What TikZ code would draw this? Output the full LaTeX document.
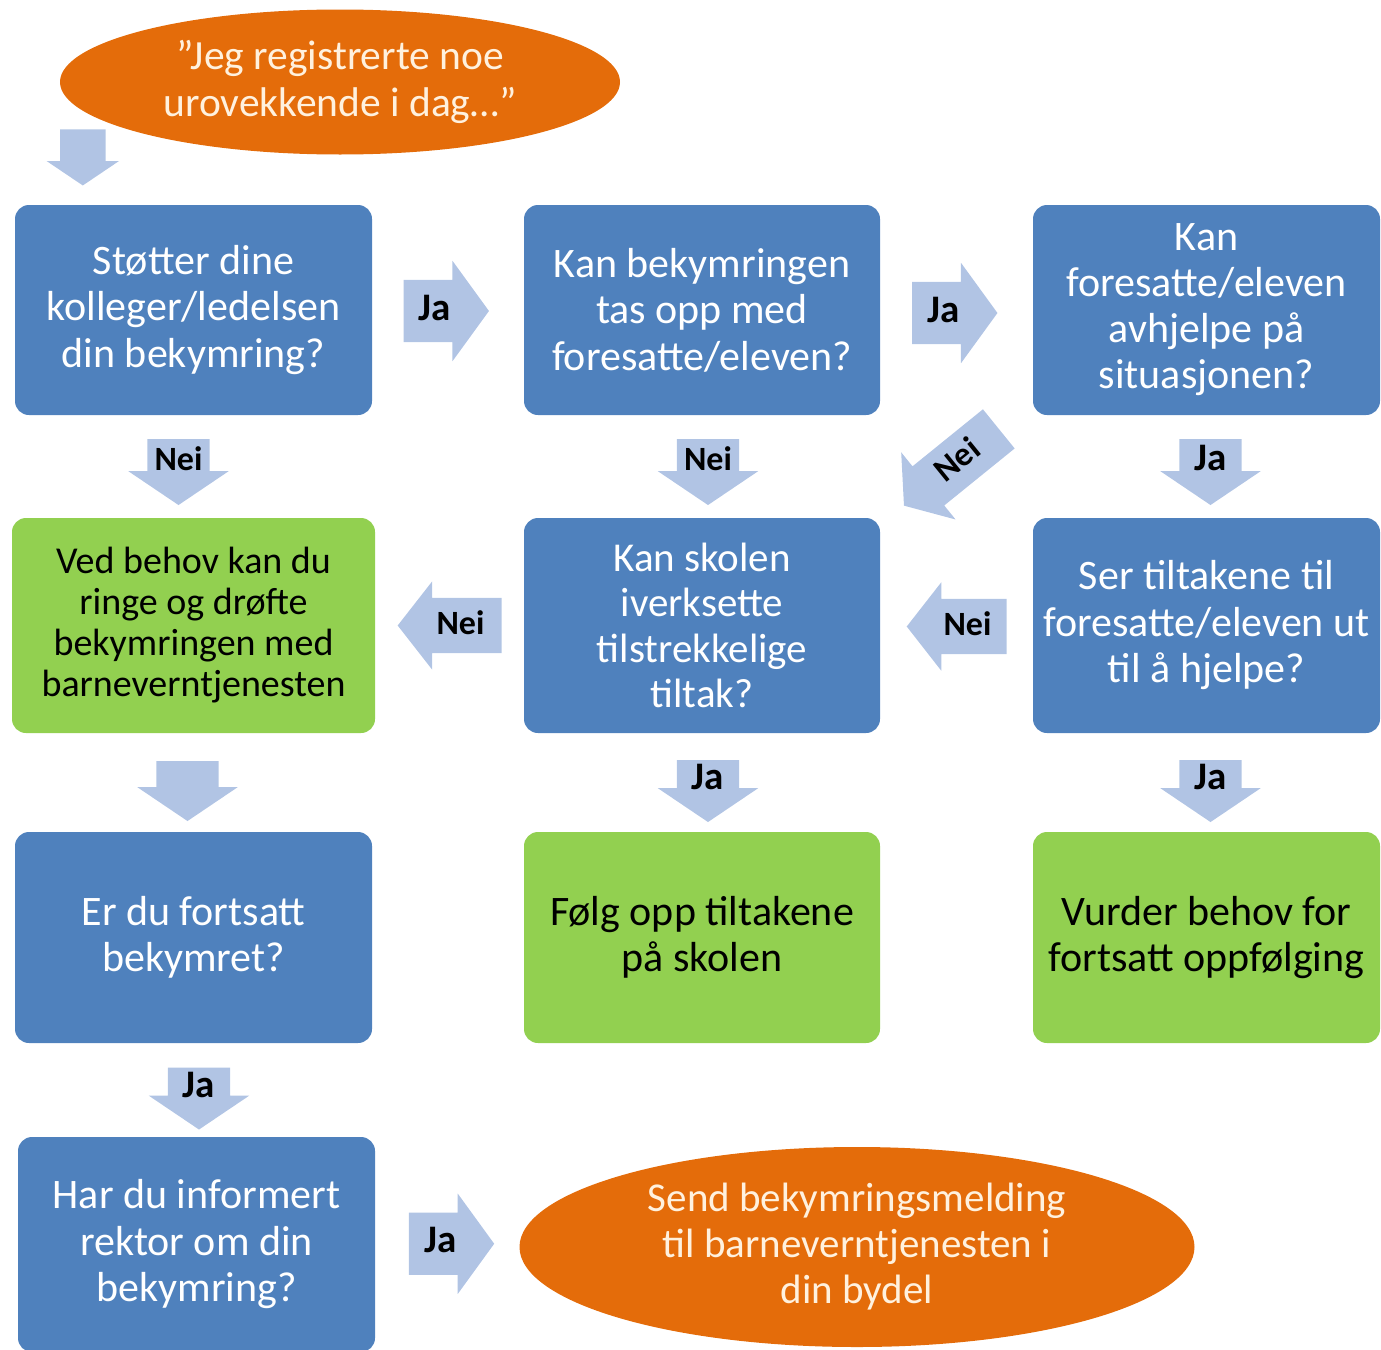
\documentclass[tikz,border=0pt]{standalone}
\usepackage{fontspec}
\setmainfont{Carlito}
\usetikzlibrary{shapes.geometric,shapes.arrows,calc}
\definecolor{boxblue}{HTML}{4F81BD}
\definecolor{boxgreen}{HTML}{92D050}
\definecolor{ovalorange}{HTML}{E46C0A}
\definecolor{arrowblue}{HTML}{B1C4E4}
\definecolor{cream}{HTML}{FFF1DE}
\newcommand{\arrowtext}[1]{\makebox[32pt]{#1}}
\tikzset{
  question/.style={fill=boxblue,rounded corners=14pt,text=white,align=center,inner sep=0pt,
    minimum width=357pt,minimum height=210pt,font=\fontsize{42}{46.5}\selectfont},
  advice/.style={question,fill=boxgreen,text=black},
  oval/.style={ellipse,fill=ovalorange,text=cream,align=center,inner sep=0pt,
    font=\fontsize{41.5}{47}\selectfont},
  flow/.style={single arrow,fill=arrowblue,inner xsep=15pt,inner ysep=18pt,
    text height=22pt,text depth=4pt,minimum width=100pt,single arrow head extend=19pt,
    single arrow tip angle=108,font=\bfseries\fontsize{34}{40}\selectfont},
  yes/.style={font=\bfseries\fontsize{39}{44}\selectfont},
  flowright/.style={flow,minimum height=76pt},
  flowdown/.style={flow,shape border rotate=270,inner ysep=2pt,text height=20pt,text depth=2pt,
    minimum height=66pt,single arrow tip angle=112},
  flowleft/.style={flow,shape border rotate=180,inner ysep=14.5pt,minimum width=88pt,
    single arrow head extend=16.5pt,single arrow tip angle=104}
}

\begin{document}
\begin{tikzpicture}[x=1pt,y=-1pt]
  \clip (0,0) rectangle (1381,1349);

  % Start and end.
  \node[oval,minimum width=560pt,minimum height=145pt] (start) at (340,82)
    {”Jeg registrerte noe\\urovekkende i dag…”};
  \node[oval,minimum width=675pt,minimum height=200pt,font=\fontsize{41}{46}\selectfont] (send) at (857,1247)
    {Send bekymringsmelding\\til barneverntjenesten i\\din bydel};

  % Questions and advice, row by row.
  \node[question] (a) at (193.5,310) {Støtter dine\\kolleger/ledelsen\\din bekymring?};
  \node[question,minimum width=356pt] (b) at (702,310) {Kan bekymringen\\tas opp med\\foresatte/eleven?};
  \node[question,minimum width=347pt,font=\fontsize{42}{46}\selectfont] (c) at (1206.5,310)
    {Kan\\foresatte/eleven\\avhjelpe på\\situasjonen?};

  \node[advice,minimum width=363pt,minimum height=215pt,font=\fontsize{38}{41}\selectfont] (d) at (193.5,625.5)
    {Ved behov kan du\\ringe og drøfte\\bekymringen med\\barneverntjenesten};
  \node[question,minimum width=356pt,minimum height=215pt,font=\fontsize{41}{45.5}\selectfont] (e) at (702,625.5)
    {Kan skolen\\iverksette\\tilstrekkelige\\tiltak?};
  \node[question,minimum width=347pt,minimum height=215pt] (f) at (1206.5,625.5)
    {Ser tiltakene til\\foresatte/eleven ut\\til å hjelpe?};

  \node[question,minimum height=211pt] (g) at (193.5,937.5) {Er du fortsatt\\bekymret?};
  \node[advice,minimum width=356pt,minimum height=211pt] (h) at (702,937.5) {Følg opp tiltakene\\på skolen};
  \node[advice,minimum width=347pt,minimum height=211pt] (i) at (1206.5,937.5) {Vurder behov for\\fortsatt oppfølging};

  \node[question,minimum height=215pt] (j) at (196.5,1244.5) {Har du informert\\rektor om din\\bekymring?};

  % Block arrows.
  \node[flowdown,minimum width=72pt,inner xsep=6.5pt,single arrow head extend=13.5pt,minimum height=56pt]
    (sa) at ($(a.north west)+(68,-55)$) {\arrowtext{}};
  \node[flowright,yes] (ab) at ($(a.east)!0.5!(b.west)+(-13,1)$) {Ja};
  \node[flowright,yes] (bc) at ($(b.east)!0.5!(c.west)+(-13,3)$) {Ja};
  \node[flowdown] (ad) at ($(a.south)!0.5!(d.north)+(-15,-5)$) {\arrowtext{Nei}};
  \node[flowdown] (be) at ($(b.south)!0.5!(e.north)+(6,-5)$) {\arrowtext{Nei}};
  \node[flowdown,yes] (cf) at ($(c.south)!0.5!(f.north)+(4,-5)$) {\arrowtext{Ja}};
  \node[flow,rotate=39,shape border rotate=180,inner ysep=12pt,minimum width=86pt,
    single arrow head extend=18pt,minimum height=122pt] (ce) at ($(c.south west)!0.5!(e.north east)+(2,-5)$) {Nei};
  \node[flowleft,minimum height=104pt] (ed) at ($(e.west)!0.5!(d.east)+(11,0)$) {Nei};
  \node[flowleft,minimum height=90pt] (fe) at ($(f.west)!0.5!(e.east)+(11,1)$) {Nei};
  \node[flowdown,minimum height=60pt,minimum width=96pt] (dg) at ($(d.south)!0.5!(g.north)+(-6,-2)$) {\arrowtext{}};
  \node[flowdown,yes,minimum height=62pt] (eh) at ($(e.south)!0.5!(h.north)+(6,-2)$) {\arrowtext{Ja}};
  \node[flowdown,yes,minimum height=62pt] (fi) at ($(f.south)!0.5!(i.north)+(4,-2)$) {\arrowtext{Ja}};
  \node[flowdown,yes,minimum height=62pt] (gj) at ($(g.south)!0.5!(j.north)+(4,-2)$) {\arrowtext{Ja}};
  \node[flowright,yes] (jk) at ($(j.east)!0.5!(send.west)+(-7,-2)$) {Ja};
\end{tikzpicture}
\end{document}
